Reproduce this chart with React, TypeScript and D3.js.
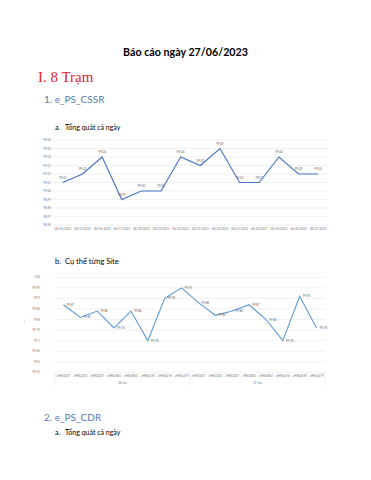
import React, { useEffect } from 'react';
import * as d3 from 'd3';

// Biểu đồ 1: tổng quát cả ngày
const days = ['06/14/2023', '06/15/2023', '06/16/2023', '06/17/2023', '06/18/2023', '06/19/2023', '06/20/2023',
  '06/21/2023', '06/22/2023', '06/23/2023', '06/24/2023', '06/25/2023', '06/26/2023', '06/27/2023'];
const cssrDay = [99.01, 99.02, 99.04, 98.99, 99.00, 99.00, 99.04, 99.03, 99.05, 99.01, 99.01, 99.04, 99.02, 99.02];
const dayTicks = [98.96, 98.97, 98.98, 98.99, 99.0, 99.01, 99.02, 99.03, 99.04, 99.05, 99.06];

// Biểu đồ 2: cụ thể từng site
const sites = ['eHNO027', 'eHNO203', 'eHNO207', 'eHNO801', 'eHNO803', 'eHNO476', 'eHNO478', 'eHNO479'];
const groups = ['26 Jun', '27 Jun'];
const cssrSite = [99.87, 99.81, 99.84, 99.76, 99.84, 99.70, 99.90, 99.95,
  99.88, 99.82, 99.84, 99.87, 99.80, 99.70, 99.91, 99.76];
const siteTicks = [99.55, 99.6, 99.65, 99.7, 99.75, 99.8, 99.85, 99.9, 99.95, 100];

const font = 'Lato, "Open Sans", sans-serif';

const App = () => {
  useEffect(() => {
    document.body.style.margin = '0';
  }, []);

  // chart 1 scales
  const x1 = d3.scaleBand().domain(days).range([53, 328]);
  const y1 = d3.scaleLinear().domain([98.96, 99.06]).range([225, 140]);
  const line1 = d3.line<number>()
    .x((d, i) => x1(days[i])! + x1.bandwidth() / 2)
    .y((d) => y1(d));

  // chart 2 scales
  const siteKeys = groups.flatMap((g) => sites.map((s) => g + '|' + s));
  const x2 = d3.scaleBand().domain(siteKeys).range([55, 325]);
  const y2 = d3.scaleLinear().domain([99.55, 100]).range([372.3, 277.3]);
  const line2 = d3.line<number>()
    .x((d, i) => x2(siteKeys[i])! + x2.bandwidth() / 2)
    .y((d) => y2(d));

  return (
    <svg width={371} height={480} style={{ display: 'block', background: '#fff' }} fontFamily={font}>
      <text x={185.5} y={56} textAnchor="middle" fontSize={10.7} fontWeight="bold" fill="#000">Báo cáo ngày 27/06/2023</text>
      <text x={38} y={82} fontSize={15} fontFamily='"Liberation Serif", serif' fill="#e3262b">I. 8 Trạm</text>
      <text x={44} y={103} fontSize={10} fill="#5a7bb0">1. e_PS_CSSR</text>
      <text x={55} y={130} fontSize={7} fill="#000">a.</text>
      <text x={65} y={130} fontSize={7} fill="#000">Tổng quát cả ngày</text>

      {/* chart 1 */}
      <g>
        {dayTicks.map((t) => (
          <g key={t}>
            <line x1={53} x2={328} y1={y1(t)} y2={y1(t)} stroke="#e8e8e8" strokeWidth={0.6} />
            <text x={51} y={y1(t) + 1} textAnchor="end" fontSize={3} fill="#777">{t.toFixed(2)}</text>
          </g>
        ))}
        <path d={line1(cssrDay)!} fill="none" stroke="#4472c4" strokeWidth={1.1} />
        {cssrDay.map((v, i) => (
          <text key={i} x={x1(days[i])! + x1.bandwidth() / 2} y={y1(v) - 4} textAnchor="middle" fontSize={3} fill="#666">{v.toFixed(2)}</text>
        ))}
        {days.map((d) => (
          <text key={d} x={x1(d)! + x1.bandwidth() / 2} y={230} textAnchor="middle" fontSize={3} fill="#777">{d}</text>
        ))}
      </g>

      <text x={55} y={264} fontSize={7.5} fill="#000">b.</text>
      <text x={65} y={264} fontSize={7.5} fill="#000">Cụ thể từng Site</text>

      {/* chart 2 */}
      <g>
        {siteTicks.map((t) => (
          <g key={t}>
            <line x1={55} x2={325} y1={y2(t)} y2={y2(t)} stroke="#e8e8e8" strokeWidth={0.6} />
            <text x={40} y={y2(t) + 1} textAnchor="end" fontSize={3} fill="#777">{d3.format('~')(t)}</text>
          </g>
        ))}
        <text x={24} y={322} fontSize={3} fill="#777">|</text>
        <path d={line2(cssrSite)!} fill="none" stroke="#5b9bd5" strokeWidth={1.1} />
        {cssrSite.map((v, i) => (
          <text key={i} x={x2(siteKeys[i])! + x2.bandwidth() / 2 + 3} y={y2(v) + 1} fontSize={3} fill="#666">{v.toFixed(2)}</text>
        ))}
        {siteKeys.map((k) => (
          <text key={k} x={x2(k)! + x2.bandwidth() / 2} y={377} textAnchor="middle" fontSize={3} fill="#777">{k.split('|')[1]}</text>
        ))}
        {[0, 8, 16].map((i) => {
          const xx = i < 16 ? x2(siteKeys[i])! : 325;
          return <line key={i} x1={xx} x2={xx} y1={372.3} y2={386} stroke="#e3e3e3" strokeWidth={0.6} />;
        })}
        {groups.map((g, gi) => (
          <text key={g} x={(x2(siteKeys[gi * 8])! + (gi === 0 ? x2(siteKeys[8])! : 325)) / 2} y={384} textAnchor="middle" fontSize={3} fill="#777">{g}</text>
        ))}
      </g>

      <text x={44} y={421} fontSize={10} fill="#5a7bb0">2. e_PS_CDR</text>
      <text x={55} y={435} fontSize={7} fill="#000">a.</text>
      <text x={65} y={435} fontSize={7} fill="#000">Tổng quát cả ngày</text>
    </svg>
  );
};

export default App;
